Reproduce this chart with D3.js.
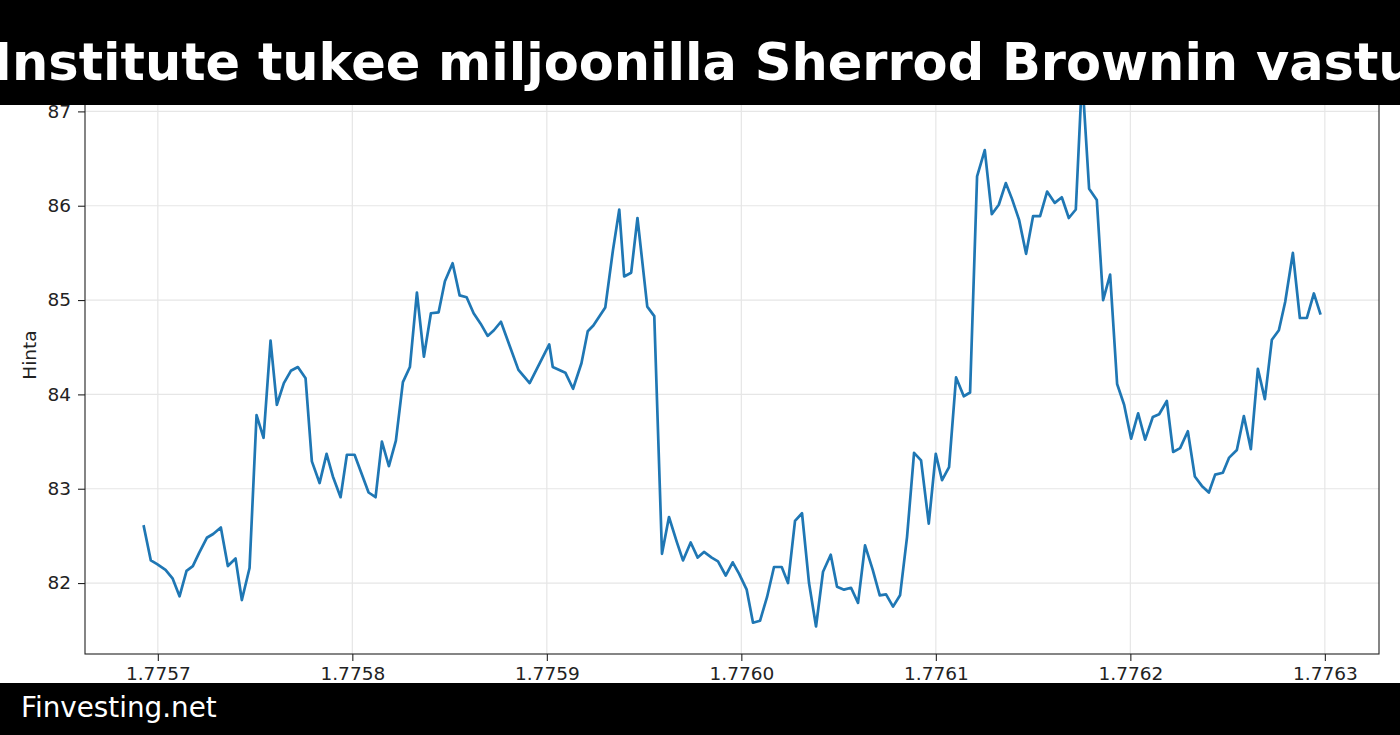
<!DOCTYPE html>
<html>
<head>
<meta charset="utf-8">
<script src="https://cdn.jsdelivr.net/npm/d3@7"></script>
<style>
  html, body { margin: 0; padding: 0; background: #fff; }
  svg { display: block; }
</style>
</head>
<body>
<svg id="chart" width="1400" height="735"></svg>
<script>
// ---- data ----
const titleText = "Institute tukee miljoonilla Sherrod Brownin vastustajaa";
const footerText = "Finvesting.net";
const yLabel = "Hinta";
const startTime = 1775692800; // unix seconds of first point
const hoursFromStart = [
  0, 1, 1.9, 3.1, 4.1, 5.1, 6.1, 7, 7.9, 9, 9.9, 11, 12, 13.1, 14, 15.1, 16.1, 17.1, 18.1, 19,
  20, 21, 22, 23.1, 24, 25.1, 26.1, 27, 28.1, 29, 30.1, 31, 32.1, 33.1, 34, 35, 36, 37, 38, 39,
  40, 41, 42.1, 43, 44.1, 45.1, 46.1, 47.1, 48.1, 49.1, 50, 51, 53.5, 55.1, 57.9, 58.4, 60.2, 61.3, 62.5, 63.4,
  64.2, 65.9, 67, 67.9, 68.6, 69.6, 70.5, 71.9, 72.9, 74, 75, 76.1, 77, 78.1, 79.1, 80, 81.1, 82, 83.1, 84.1,
  85, 86.1, 87, 88, 89, 90, 91.1, 92, 93, 94, 95, 96, 97, 98.1, 99, 100, 101, 102, 103, 104.1,
  105.1, 106, 107, 108, 109, 110, 111, 112.1, 113.1, 114, 115, 116, 117.1, 118, 119, 120.1, 121.1, 122.1, 123.1, 124,
  125, 126, 127, 128, 129, 130.1, 131.1, 132.1, 133.1, 134, 135, 136.1, 137, 138, 139, 140, 141, 142, 143, 144.1,
  145, 146.1, 147, 148, 149.1, 150.1, 151.1, 152.1, 153, 154.1, 155, 156.1, 157.1, 158.1, 159.1, 160.1, 161.1, 162.1, 163, 164.1,
  165.1, 166.1, 167.1, 168
];
const prices = [
  82.60, 82.24, 82.20, 82.14, 82.05, 81.86, 82.13, 82.18, 82.32, 82.48, 82.52, 82.59, 82.18, 82.26, 81.82, 82.16, 83.78, 83.54, 84.57, 83.89,
  84.12, 84.25, 84.29, 84.17, 83.29, 83.06, 83.37, 83.13, 82.91, 83.36, 83.36, 83.18, 82.96, 82.91, 83.50, 83.24, 83.51, 84.13, 84.29, 85.08,
  84.40, 84.86, 84.87, 85.20, 85.39, 85.05, 85.03, 84.86, 84.75, 84.62, 84.68, 84.77, 84.26, 84.12, 84.53, 84.29, 84.23, 84.06, 84.33, 84.67,
  84.73, 84.92, 85.53, 85.96, 85.25, 85.29, 85.87, 84.93, 84.83, 82.31, 82.70, 82.44, 82.24, 82.43, 82.27, 82.33, 82.27, 82.23, 82.08, 82.22,
  82.10, 81.93, 81.58, 81.60, 81.85, 82.17, 82.17, 82.00, 82.66, 82.74, 82.00, 81.54, 82.12, 82.30, 81.96, 81.93, 81.95, 81.79, 82.40, 82.14,
  81.87, 81.88, 81.75, 81.87, 82.49, 83.38, 83.30, 82.63, 83.37, 83.09, 83.23, 84.18, 83.98, 84.02, 86.31, 86.59, 85.91, 86.01, 86.24, 86.07,
  85.85, 85.49, 85.89, 85.89, 86.15, 86.03, 86.09, 85.87, 85.96, 87.38, 86.18, 86.06, 85.00, 85.27, 84.11, 83.89, 83.53, 83.80, 83.52, 83.76,
  83.79, 83.93, 83.39, 83.43, 83.61, 83.13, 83.03, 82.96, 83.15, 83.17, 83.33, 83.41, 83.77, 83.42, 84.27, 83.95, 84.58, 84.68, 84.98, 85.50,
  84.81, 84.81, 85.07, 84.86
];
const yTicks = [82, 83, 84, 85, 86, 87];
const xTicks = [1.7757, 1.7758, 1.7759, 1.7760, 1.7761, 1.7762, 1.7763]; // x 1e9 seconds

// ---- layout ----
const W = 1400, H = 735;
const plot = { left: 85, right: 1379, top: 48, bottom: 654 };
const svg = d3.select("#chart");
const FONT = "'DejaVu Sans', sans-serif";

const points = hoursFromStart.map((h, i) => ({ t: startTime + h * 3600, v: prices[i] }));

function padded(ext) {
  const r = ext[1] - ext[0];
  return [ext[0] - 0.05 * r, ext[1] + 0.05 * r];
}
const x = d3.scaleLinear().domain(padded(d3.extent(points, d => d.t))).range([plot.left, plot.right]);
const y = d3.scaleLinear().domain(padded(d3.extent(points, d => d.v))).range([plot.bottom, plot.top]);

svg.append("rect").attr("width", W).attr("height", H).attr("fill", "#fff");

// grid
const grid = svg.append("g");
grid.selectAll("line.gy").data(yTicks).join("line")
  .attr("x1", plot.left).attr("x2", plot.right)
  .attr("y1", d => y(d)).attr("y2", d => y(d))
  .attr("stroke", "#e6e6e6").attr("stroke-width", 1.2);
grid.selectAll("line.gx").data(xTicks).join("line")
  .attr("y1", plot.top).attr("y2", plot.bottom)
  .attr("x1", d => x(d * 1e9)).attr("x2", d => x(d * 1e9))
  .attr("stroke", "#e6e6e6").attr("stroke-width", 1.2);

// line
const line = d3.line().x(d => x(d.t)).y(d => y(d.v));
svg.append("path").datum(points)
  .attr("d", line)
  .attr("fill", "none")
  .attr("stroke", "#1f77b4")
  .attr("stroke-width", 2.7)
  .attr("stroke-linejoin", "round")
  .attr("stroke-linecap", "square");

// axes
const xAxis = d3.axisBottom(x).tickValues(xTicks.map(d => d * 1e9))
  .tickFormat(d => (d / 1e9).toFixed(4)).tickSize(7).tickPadding(6);
const yAxis = d3.axisLeft(y).tickValues(yTicks).tickFormat(d3.format("d")).tickSize(7).tickPadding(7);

const gx = svg.append("g").attr("transform", `translate(0,${plot.bottom})`).call(xAxis);
const gy = svg.append("g").attr("transform", `translate(${plot.left},0)`).call(yAxis);
[gx, gy].forEach(g => {
  g.select(".domain").remove();
  g.selectAll(".tick line").attr("stroke", "#222").attr("stroke-width", 1.1);
  g.selectAll(".tick text").attr("fill", "#222").style("font-family", FONT).style("font-size", "18.5px");
});

// spines
svg.append("rect")
  .attr("x", plot.left).attr("y", plot.top)
  .attr("width", plot.right - plot.left).attr("height", plot.bottom - plot.top)
  .attr("fill", "none").attr("stroke", "#222").attr("stroke-width", 1.1);

// y label
svg.append("text")
  .attr("transform", `translate(36,${(plot.top + plot.bottom) / 2 + 4}) rotate(-90)`)
  .attr("text-anchor", "middle")
  .style("font-family", FONT).style("font-size", "18.5px").attr("fill", "#222")
  .text(yLabel);

// title bar
svg.append("rect").attr("x", 0).attr("y", 0).attr("width", W).attr("height", 105).attr("fill", "#000");
svg.append("text")
  .attr("x", -7).attr("y", 80)
  .attr("fill", "#fff")
  .style("font-family", FONT).style("font-weight", "bold").style("font-size", "51px")
  .text(titleText);

// footer bar
svg.append("rect").attr("x", 0).attr("y", 683).attr("width", W).attr("height", H - 683).attr("fill", "#000");
svg.append("text")
  .attr("x", 21).attr("y", 717)
  .attr("fill", "#fff")
  .style("font-family", FONT).style("font-size", "27.8px")
  .text(footerText);
</script>
</body>
</html>
